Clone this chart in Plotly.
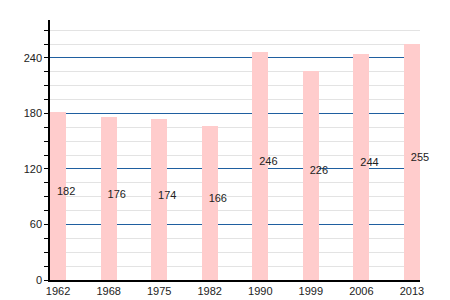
import plotly.graph_objects as go

years = ["1962", "1968", "1975", "1982", "1990", "1999", "2006", "2013"]
population = [182, 176, 174, 166, 246, 226, 244, 255]
y_ticks = [0, 60, 120, 180, 240]

idx = list(range(len(years)))

fig = go.Figure()
fig.add_trace(go.Bar(
    x=idx, y=population, width=0.317,
    marker=dict(color="#ffcccc", line=dict(width=0)),
    hoverinfo="skip",
))
fig.add_trace(go.Scatter(
    x=[i + 0.16 for i in idx], y=[v / 2 + 4 for v in population],
    mode="text", text=[str(v) for v in population],
    textfont=dict(family="Liberation Sans, Arial", size=11, color="#222"),
    textposition="middle center", hoverinfo="skip", cliponaxis=False,
))

fig.update_layout(
    width=450, height=300,
    margin=dict(l=50, r=30, t=20, b=20, autoexpand=False),
    paper_bgcolor="white", plot_bgcolor="white",
    showlegend=False,
    bargap=0,
    font=dict(family="Liberation Sans, Arial", size=11, color="#222"),
)
fig.update_xaxes(
    range=[-0.16, 7.16], tickmode="array", tickvals=idx, ticktext=years,
    showgrid=False, zeroline=False, automargin=False,
    showline=True, linecolor="black", linewidth=1.5,
    ticks="", ticklen=0,
)
fig.update_yaxes(
    range=[0, 281], tickmode="array", tickvals=y_ticks,
    showgrid=True, gridcolor="#1f5fa0", gridwidth=1,
    zeroline=False, automargin=False,
    showline=True, linecolor="black", linewidth=1.5,
    ticks="outside", ticklen=4, tickcolor="black",
    minor=dict(dtick=15, tick0=0, showgrid=True, gridcolor="#e3e3e3", gridwidth=1,
               ticks="outside", ticklen=4, tickcolor="black"),
    layer="below traces",
)

fig.write_html("out.html")
